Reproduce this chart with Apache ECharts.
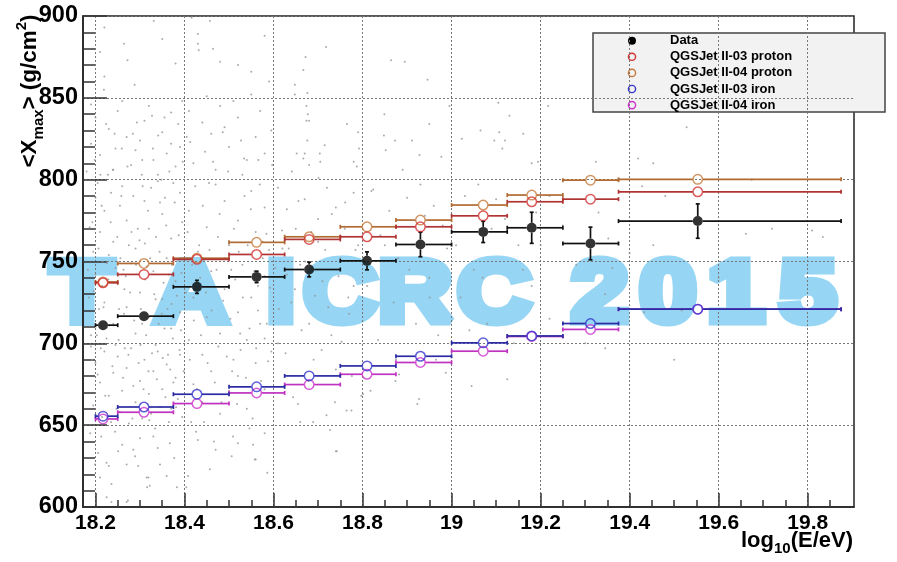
<!DOCTYPE html>
<html><head><meta charset="utf-8">
<script src="https://cdn.jsdelivr.net/npm/echarts@6/dist/echarts.min.js"></script>
<style>html,body{margin:0;padding:0;background:#fff}#c{width:897px;height:562px}</style>
</head><body><div id="c"></div>
<script>
// ---- data ----
const binLow  = [18.2, 18.25, 18.375, 18.5, 18.625, 18.75, 18.875, 19.0, 19.125, 19.25, 19.375];
const binHigh = [18.25, 18.375, 18.5, 18.625, 18.75, 18.875, 19.0, 19.125, 19.25, 19.375, 19.875];
const meanLogE = [18.217, 18.309, 18.428, 18.562, 18.68, 18.81, 18.93, 19.071, 19.18, 19.312, 19.553];
const dataXmax = [711.1, 716.6, 734.5, 740.6, 745.1, 750.4, 760.4, 768.1, 770.6, 761.0, 774.7];
const dataErr  = [2.5, 3, 4, 3.5, 4.5, 5.5, 7.5, 6.5, 9.5, 10, 10.5];
const qgs03Proton = [737.0, 742.1, 751.3, 754.3, 763.5, 765.1, 771.2, 777.9, 786.5, 788.1, 792.6];
const qgs04Proton = [737.5, 748.8, 752.0, 761.7, 765.1, 771.2, 775.3, 784.5, 790.6, 799.7, 800.2];
const qgs03Iron   = [655.5, 661.1, 668.9, 673.4, 680.1, 686.2, 692.1, 700.3, 704.5, 712.1, 720.9];
const qgs04Iron   = [653.8, 657.9, 663.2, 669.7, 674.8, 681.1, 688.3, 695.2, 704.2, 708.5, 720.9];
const protonErr = [2, 2, 2, 2, 2.5, 2.5, 2.5, 3, 3, 3, 3];
const ironErr   = [1, 1, 1, 1, 1, 1, 1, 1, 1, 1, 1];
const xMajorTicks = [18.2, 18.4, 18.6, 18.8, 19.0, 19.2, 19.4, 19.6, 19.8];
const xMinorTicks = [18.25,18.3,18.35,18.45,18.5,18.55,18.65,18.7,18.75,18.85,18.9,18.95,19.05,19.1,19.15,19.25,19.3,19.35,19.45,19.5,19.55,19.65,19.7,19.75,19.85];
const legendLabels = ['Data', 'QGSJet II-03 proton', 'QGSJet II-04 proton', 'QGSJet II-03 iron', 'QGSJet II-04 iron'];
const watermarkChars = ['T','A','I','C','R','C','2','0','1','5'];
// individual events (log10E, Xmax)
const events = [
[18.21,878],[18.22,863],[18.219,855],[18.288,858],[18.272,873],[18.264,883],[18.331,897],[18.38,871],[18.19,846],[18.2,838],[18.23,831],[18.25,842],[18.27,826],[18.29,818],[18.31,836],[18.33,812],[18.35,829],[18.37,841],[18.39,820],[18.21,815],[18.24,806],[18.28,809],[18.3,824],[18.34,803],[18.36,816],[18.19,822],[18.26,848],[18.32,845],[18.38,808],[18.22,893],[18.35,886],[18.18,805],[18.245,819],[18.305,812],[18.355,838],[18.395,848],
[18.416,899],[18.432,879],[18.457,897],[18.43,889],[18.43,883],[18.464,880],[18.48,872],[18.52,870],[18.55,866],[18.58,888],[18.59,860],[18.41,842],[18.44,835],[18.46,828],[18.48,845],[18.5,820],[18.52,838],[18.54,812],[18.56,826],[18.58,816],[18.42,810],[18.47,806],[18.51,848],[18.53,803],[18.57,842],[18.45,851],[18.49,832],[18.55,852],[18.595,830],[18.405,826],
[18.718,881],[18.672,875],[18.667,867],[18.648,858],[18.648,852],[18.676,853],[18.864,873],[18.895,872],[18.946,861],[18.674,845],[18.677,840],[18.674,836],[18.68,836],[18.765,834],[18.79,829],[18.676,824],[18.715,821],[18.792,819],[18.652,816],[18.67,816],[18.704,816],[18.705,811],[18.667,813],[18.68,809],[18.78,811],[18.849,840],[18.848,827],[18.873,824],[18.911,824],[18.852,818],[18.95,834],[18.928,815],[18.977,814],[18.995,845],[19.023,825],[19.065,830],[19.096,824],[19.105,847],[19.13,839],[19.107,829],[19.12,824],[19.114,819],[19.161,828],[19.18,810],[19.194,811],[19.217,845],[19.324,811],
[19.528,832],[19.419,813],[19.453,810],[19.428,796],[19.674,800],[19.661,767],[19.81,769],[19.834,765],[19.352,764],[19.453,760],[19.361,746],[19.345,730],[19.433,719],[19.517,720],[19.345,697],
[18.787,808],[18.824,794],[18.82,793],[18.86,781],[18.84,766],[18.9,789],[18.93,797],[18.96,784],[18.98,772],[18.88,752],[18.95,740],[18.99,758],[19.03,790],[19.06,797],[19.1,788],[19.12,776],[19.15,760],[19.05,745],[19.18,735],[19.02,728],[18.87,725],[18.92,712],[18.97,705],[19.08,712],[19.2,760],[19.22,790],[18.951,728],
[18.882,681],[18.874,677],[18.818,671],[18.801,669],[18.797,668],[18.927,666],[18.923,663],[18.775,659],[18.987,682],[19.045,674],[19.125,678],
[18.644,667],[18.655,663],[18.719,656],[18.742,634],[18.727,647],[18.764,659],[18.689,652],[18.66,652],[18.74,634],
[18.61,795],[18.63,782],[18.65,770],[18.67,788],[18.7,776],[18.72,795],[18.74,783],[18.76,770],[18.78,792],[18.62,758],[18.66,748],[18.71,738],[18.75,752],[18.79,760],[18.64,725],[18.68,712],[18.73,705],[18.77,718],[18.61,700],[18.69,690],[18.74,684],[18.63,742],[18.7,762],[18.78,735],
[18.206,633],[18.225,627],[18.23,625],[18.21,618],[18.236,614],[18.251,634],[18.27,626],[18.296,625],[18.315,618],[18.322,613],[18.345,626],[18.36,619],[18.383,612],[18.225,606],[18.273,604],[18.367,639],[18.33,643],[18.3,642],[18.213,643],[18.26,638],[18.34,636],[18.285,635],[18.236,603],[18.27,603],[18.319,618],[18.316,612],
[18.19,698],[18.2,688],[18.21,676],[18.22,695],[18.23,668],[18.24,682],[18.25,692],[18.26,671],[18.27,685],[18.28,697],[18.29,664],[18.3,677],[18.31,690],[18.32,669],[18.33,683],[18.34,695],[18.35,672],[18.36,687],[18.37,660],[18.38,679],[18.39,693],[18.195,662],[18.215,655],[18.235,652],[18.255,658],[18.275,651],[18.305,654],[18.325,657],[18.345,661],[18.365,652],[18.385,666],[18.205,681],[18.245,699],[18.285,674],[18.335,699],[18.375,676],[18.395,655],
[18.19,705],[18.2,742],[18.21,768],[18.2,789],[18.22,725],[18.23,754],[18.22,781],[18.24,712],[18.25,737],[18.24,762],[18.26,796],[18.27,722],[18.28,749],[18.27,775],[18.29,706],[18.3,731],[18.29,758],[18.31,787],[18.32,716],[18.33,744],[18.32,770],[18.34,799],[18.35,727],[18.36,752],[18.35,779],[18.37,709],[18.38,738],[18.37,764],[18.39,792],[18.39,719],[18.185,728],[18.195,756],[18.205,798],[18.225,703],[18.245,746],[18.255,784],[18.265,733],[18.285,790],[18.295,770],[18.305,712],[18.315,747],[18.335,727],[18.345,786],[18.355,709],[18.365,742],[18.375,798],[18.385,751],[18.215,735],[18.235,792],[18.275,760],[18.325,795],[18.395,774],
[18.41,702],[18.42,728],[18.43,756],[18.41,781],[18.44,693],[18.45,716],[18.46,744],[18.45,771],[18.47,797],[18.48,706],[18.49,733],[18.5,760],[18.49,787],[18.51,690],[18.52,719],[18.53,748],[18.52,775],[18.54,702],[18.55,728],[18.56,768],[18.55,793],[18.57,712],[18.58,741],[18.59,757],[18.58,783],[18.42,675],[18.44,664],[18.46,683],[18.48,657],[18.5,671],[18.52,680],[18.54,660],[18.56,688],[18.58,672],[18.595,695],[18.415,652],[18.435,740],[18.475,765],[18.505,745],[18.535,790],[18.565,735],[18.585,712],[18.455,798],[18.525,706],[18.575,762],
[18.408,619],[18.404,612],[18.457,623],[18.509,643],[18.52,639],[18.554,638],[18.558,629],[18.56,629],[18.58,645],[18.43,641],[18.47,635],
[19.25,772],[19.28,748],[19.33,780],[19.4,755],[19.48,790],[19.6,740],[19.72,770],[19.3,700],[19.5,690],[19.22,715],
[18.183,745],[18.187,771],[18.192,690],[18.196,732],[18.198,812],[18.203,705],[18.207,758],[18.212,697],[18.214,784],[18.218,722],[18.222,668],[18.226,749],[18.228,803],[18.232,711],[18.234,774],[18.238,686],[18.241,737],[18.243,828],[18.247,660],[18.249,765],[18.252,702],[18.256,752],[18.258,790],[18.262,679],[18.264,718],[18.268,741],[18.272,808],[18.274,693],[18.278,731],[18.281,768],[18.283,654],[18.287,714],[18.291,748],[18.293,835],[18.297,688],[18.299,763],[18.302,721],[18.306,796],[18.308,672],[18.312,739],[18.314,705],[18.318,781],[18.321,653],[18.323,752],[18.327,694],[18.329,819],[18.332,730],[18.336,765],[18.338,678],[18.342,712],[18.344,756],[18.348,800],[18.351,691],[18.353,737],[18.357,667],[18.359,772],[18.362,721],[18.366,805],[18.368,684],[18.372,748],[18.374,703],[18.378,786],[18.381,661],[18.383,729],[18.387,766],[18.389,696],[18.393,743],[18.396,811],[18.398,683],[18.188,645],[18.199,626],[18.244,646],[18.289,631],[18.334,648],[18.377,630],[18.208,721],[18.253,721],[18.301,699],[18.349,718],[18.392,708],[18.216,750],[18.229,739],[18.266,697],[18.311,761],[18.356,789],[18.371,724],[18.193,774],[18.239,806],[18.284,828],[18.327,839],[18.37,822],[18.224,834],[18.259,819],[18.304,803],[18.341,827],[18.386,834],[18.211,803],[18.263,745],[18.319,683],[18.363,693],
[18.403,731],[18.407,768],[18.412,690],[18.417,748],[18.421,714],[18.424,796],[18.428,672],[18.433,760],[18.437,705],[18.441,784],[18.444,652],[18.448,731],[18.452,688],[18.456,757],[18.461,720],[18.464,811],[18.468,676],[18.472,745],[18.476,698],[18.479,779],[18.483,664],[18.487,726],[18.491,752],[18.495,692],[18.498,805],[18.503,715],[18.507,683],[18.511,770],[18.514,739],[18.518,663],[18.522,756],[18.526,696],[18.531,728],[18.534,813],[18.538,679],[18.542,760],[18.546,709],[18.549,782],[18.553,654],[18.557,744],[18.561,697],[18.565,720],[18.569,797],[18.572,677],[18.576,752],[18.58,703],[18.584,767],[18.588,689],[18.592,734],[18.597,809],[18.413,823],[18.446,817],[18.486,829],[18.527,824],[18.566,812],[18.426,646],[18.466,640],[18.506,631],[18.546,648],[18.586,621],
[18.604,746],[18.612,721],[18.619,769],[18.627,694],[18.634,758],[18.641,805],[18.648,733],[18.656,787],[18.663,708],[18.671,750],[18.678,677],[18.685,768],[18.693,729],[18.701,801],[18.708,696],[18.716,757],[18.723,722],[18.731,779],[18.738,664],[18.746,741],[18.753,701],[18.761,786],[18.768,728],[18.776,680],[18.784,757],
[18.81,735],[18.835,702],[18.85,760],[18.875,690],[18.905,745],[18.94,778],[18.965,690],[19.01,760],[19.04,708],[19.07,740],[19.09,770],[19.14,700],[19.16,745],[19.19,780],[18.89,806]
];

// ---- chart ----
const FONT = 'Liberation Sans, Arial, sans-serif';
const chart = echarts.init(document.getElementById('c'), null, {renderer: 'canvas'});

function errorBars(name, ys, errs, color, z) {
  return {
    type: 'custom', name: name + ' bars', z: z, silent: true,
    data: meanLogE.map((x, i) => [x, ys[i], binLow[i], binHigh[i], ys[i] - errs[i], ys[i] + errs[i]]),
    encode: {x: [0, 2, 3], y: [1, 4, 5]},
    renderItem: function (params, api) {
      const c = api.coord([api.value(0), api.value(1)]);
      const pL = api.coord([api.value(2), api.value(1)]);
      const pH = api.coord([api.value(3), api.value(1)]);
      const pB = api.coord([api.value(0), api.value(4)]);
      const pT = api.coord([api.value(0), api.value(5)]);
      const st = {stroke: color, lineWidth: 1.7};
      const r = 5, cap = 2;
      const kids = [];
      const L = (x1, y1, x2, y2) => kids.push({type: 'line', shape: {x1, y1, x2, y2}, style: st});
      if (c[0] - r > pL[0]) L(pL[0], c[1], c[0] - r, c[1]);
      if (pH[0] > c[0] + r) L(c[0] + r, c[1], pH[0], c[1]);
      L(pL[0], c[1] - cap, pL[0], c[1] + cap);
      L(pH[0], c[1] - cap, pH[0], c[1] + cap);
      if (pT[1] < c[1] - r) { L(c[0], pT[1], c[0], c[1] - r); L(c[0] - cap, pT[1], c[0] + cap, pT[1]); }
      if (pB[1] > c[1] + r) { L(c[0], c[1] + r, c[0], pB[1]); L(c[0] - cap, pB[1], c[0] + cap, pB[1]); }
      return {type: 'group', children: kids};
    }
  };
}
function markers(name, ys, color, filled, z) {
  return {
    type: 'scatter', name: name, z: z, silent: true,
    data: meanLogE.map((x, i) => [x, ys[i]]),
    symbol: 'circle', symbolSize: filled ? 10 : 9.5,
    itemStyle: filled ? {color: color} : {color: 'rgba(255,255,255,0)', borderColor: color, borderWidth: 1.5}
  };
}

const sets = [
  {name: legendLabels[0], ys: dataXmax, err: dataErr, marker: '#000', bar: '#111', filled: true},
  {name: legendLabels[1], ys: qgs03Proton, err: protonErr, marker: '#d23232', bar: '#b03434', filled: false},
  {name: legendLabels[2], ys: qgs04Proton, err: protonErr, marker: '#c47a3c', bar: '#b06a32', filled: false},
  {name: legendLabels[3], ys: qgs03Iron, err: ironErr, marker: '#3535cc', bar: '#2b2ba4', filled: false},
  {name: legendLabels[4], ys: qgs04Iron, err: ironErr, marker: '#cc35cc', bar: '#c032c0', filled: false}
];

const series = [{
  type: 'scatter', name: 'events', z: 1, silent: true,
  data: events, symbolSize: 2, itemStyle: {color: '#959595'}
}];
sets.slice().reverse().forEach((s, k) => series.push(errorBars(s.name, s.ys, s.err, s.bar, 3 + k)));
sets.slice().reverse().forEach((s, k) => series.push(markers(s.name, s.ys, s.marker, s.filled, 10 + k)));

// legend graphic
const legendChildren = [{
  type: 'rect', shape: {x: 593, y: 33, width: 292, height: 79},
  style: {fill: '#f2f2f2', stroke: '#444', lineWidth: 1.5}
}];
sets.forEach((s, i) => {
  const y = 40.7 + i * 16.1;
  legendChildren.push({
    type: 'circle', shape: {cx: 632, cy: y, r: s.filled ? 4 : 3.6},
    style: s.filled ? {fill: '#000'} : {fill: 'rgba(0,0,0,0)', stroke: s.marker, lineWidth: 1.4}
  });
  legendChildren.push({
    type: 'text', x: 670, y: y,
    style: {text: s.name, fill: '#000', font: 'bold 13px ' + FONT, align: 'left', verticalAlign: 'middle'}
  });
});

// watermark: opaque light blue, drawn beneath axes and series
const wmX = [82, 191, 281, 340, 415, 494, 600, 668, 736, 808];
const WM = 'rgb(150,214,244)';
const watermark = watermarkChars.map((ch, i) => ({
  type: 'text', x: wmX[i], y: 297, z: -10, scaleX: 1.16, silent: true,
  style: {text: ch, fill: WM, stroke: WM, lineWidth: 9, lineJoin: 'round',
    font: 'bold 88px "Liberation Sans", Arial, sans-serif', align: 'center', verticalAlign: 'middle'}
}));

const option = {
  animation: false,
  backgroundColor: '#fff',
  grid: {left: 83, right: 43, top: 16, bottom: 55, show: true, borderColor: '#222', borderWidth: 1.5, backgroundColor: 'rgba(0,0,0,0)'},
  xAxis: [{
    type: 'value', min: 18.172, max: 19.904, position: 'bottom',
    axisLine: {show: true, onZero: false, lineStyle: {color: '#222', width: 1.5}},
    axisTick: {show: true, inside: true, length: 14, customValues: xMajorTicks, lineStyle: {color: '#333', width: 1.5}},
    axisLabel: {show: true, customValues: xMajorTicks, margin: 6, color: '#000', fontSize: 21, fontWeight: 'bold', fontFamily: FONT,
      formatter: v => String(+(+v).toFixed(1))},
    splitLine: {show: true, lineStyle: {color: '#777', width: 1, type: [2, 2]}},
    minorTick: {show: false}
  }, {
    type: 'value', min: 18.172, max: 19.904, position: 'bottom', gridIndex: 0,
    axisLine: {show: false},
    axisTick: {show: true, inside: true, length: 7, customValues: xMinorTicks, lineStyle: {color: '#333', width: 1.5}},
    axisLabel: {show: false},
    splitLine: {show: false}
  }],
  yAxis: {
    type: 'value', min: 600, max: 900, interval: 50,
    axisLine: {show: true, onZero: false, lineStyle: {color: '#222', width: 1.5}},
    axisTick: {show: true, inside: true, length: 24, lineStyle: {color: '#333', width: 1.5}},
    minorTick: {show: true, splitNumber: 5, length: 12, lineStyle: {color: '#333', width: 1.5}},
    axisLabel: {margin: 5, color: '#000', fontSize: 23.5, fontWeight: 'bold', fontFamily: FONT},
    splitLine: {show: true, lineStyle: {color: '#777', width: 1, type: [2, 2]}}
  },
  series: series,
  graphic: [
    {type: 'group', z: 50, children: legendChildren},
    {
      type: 'text', x: 30, y: 91, rotation: Math.PI / 2, z: 50,
      style: {
        text: '{n|<X}{s|max}{n|>}{g| }{n|(g/cm}{p|2}{n|)}', align: 'center', verticalAlign: 'middle', fill: '#000',
        rich: {
          n: {fontSize: 22.5, fontWeight: 'bold', fontFamily: FONT, lineHeight: 32, verticalAlign: 'middle'},
          g: {fontSize: 22.5, fontFamily: FONT, lineHeight: 32, width: 6, verticalAlign: 'middle'},
          s: {fontSize: 15, fontWeight: 'bold', fontFamily: FONT, lineHeight: 15, verticalAlign: 'bottom'},
          p: {fontSize: 15, fontWeight: 'bold', fontFamily: FONT, lineHeight: 15, verticalAlign: 'top'}
        }
      }
    },
    {
      type: 'text', x: 853, y: 541, z: 50,
      style: {
        text: '{n|log}{s|10}{n|(E/eV)}', align: 'right', verticalAlign: 'middle', fill: '#000',
        rich: {
          n: {fontSize: 22, fontWeight: 'bold', fontFamily: FONT, lineHeight: 30, verticalAlign: 'middle'},
          s: {fontSize: 15, fontWeight: 'bold', fontFamily: FONT, lineHeight: 15, verticalAlign: 'bottom'}
        }
      }
    }
  ].concat(watermark)
};
chart.setOption(option);
</script>
</body></html>
